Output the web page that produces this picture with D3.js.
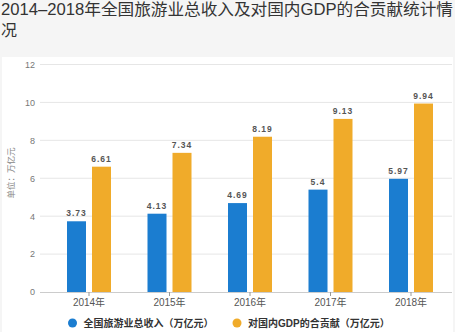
<!DOCTYPE html>
<html><head><meta charset="utf-8">
<script src="https://cdn.jsdelivr.net/npm/d3@7"></script>
<style>html,body{margin:0;padding:0;background:#f5f5f5;}svg{display:block;}</style>
</head><body>
<script>
const years = ["2014年","2015年","2016年","2017年","2018年"];
const revenue = [3.73, 4.13, 4.69, 5.4, 5.97];
const gdpContribution = [6.61, 7.34, 8.19, 9.13, 9.94];
const yTicks = [0, 2, 4, 6, 8, 10, 12];
const seriesNames = ["全国旅游业总收入（万亿元）", "对国内GDP的合贡献（万亿元）"];
const colors = ["#1b7dd0", "#f0ab2a"];
const titleLines = ["2014–2018年全国旅游业总收入及对国内GDP的合贡献统计情", "况"];

const W = 455, H = 332;
const svg = d3.select("body").append("svg").attr("width", W).attr("height", H);
const font = "'Liberation Sans','Noto Sans CJK SC',Arial,sans-serif";

svg.append("rect").attr("width", W).attr("height", H).attr("fill", "#f5f5f5");
svg.append("rect").attr("x", 2).attr("y", 57).attr("width", 451).attr("height", H - 57).attr("fill", "#ffffff");

// title
svg.append("text").attr("x", 1).attr("y", 15).attr("font-family", font).attr("font-size", 16)
  .attr("fill", "#333").attr("textLength", 452).attr("lengthAdjust", "spacingAndGlyphs").text(titleLines[0]);
svg.append("text").attr("x", 1).attr("y", 36).attr("font-family", font).attr("font-size", 16)
  .attr("fill", "#333").text(titleLines[1]);

const x = d3.scaleBand().domain(years).range([48.75, 451.25]);
const y = d3.scaleLinear().domain([0, 12]).range([292, 64.5]);

// grid
const g = svg.append("g");
g.selectAll("line.grid").data(yTicks.filter(d => d > 0)).join("line")
  .attr("x1", 40).attr("x2", 452).attr("y1", d => y(d)).attr("y2", d => y(d))
  .attr("stroke", "#e6e6e6").attr("stroke-width", 1);

// y axis labels
const yAxis = svg.append("g").attr("transform", "translate(40,0)")
  .call(d3.axisLeft(y).tickValues(yTicks).tickSize(0).tickPadding(5));
yAxis.select(".domain").remove();
yAxis.selectAll("text").attr("font-family", font).attr("font-size", 9).attr("fill", "#777");

// y axis title
svg.append("text").attr("transform", "translate(14,173) rotate(-90)")
  .attr("text-anchor", "middle").attr("font-family", font).attr("font-size", 8.5)
  .attr("fill", "#888").text("单位：万亿元");

// bars
const bw = 19, off = 12.5;
const series = [revenue, gdpContribution];
series.forEach((vals, si) => {
  const cx = i => x.bandwidth() / 2 + x(years[i]) + (si === 0 ? -off : off);
  svg.append("g").selectAll("rect").data(vals).join("rect")
    .attr("x", (d, i) => cx(i) - bw / 2).attr("width", bw)
    .attr("y", d => y(d)).attr("height", d => y(0) - y(d))
    .attr("fill", colors[si]);
  svg.append("g").selectAll("text").data(vals).join("text")
    .attr("x", (d, i) => cx(i)).attr("y", d => y(d) - 5)
    .attr("text-anchor", "middle").attr("font-family", font).attr("font-size", 8.5)
    .attr("font-weight", "bold").attr("letter-spacing", 1).attr("fill", "#555")
    .text(d => d);
});

// x axis
const xAxis = svg.append("g").attr("transform", "translate(0,292)")
  .call(d3.axisBottom(x).tickSize(4).tickPadding(3).tickSizeOuter(0));
xAxis.select(".domain").attr("d", "M40,0.5H452").attr("stroke", "#ccc");
xAxis.selectAll(".tick line").attr("stroke", "#999");
xAxis.selectAll("text").attr("font-family", font).attr("font-size", 10).attr("fill", "#555");

// legend
const legX = [72.5, 237];
seriesNames.forEach((n, i) => {
  svg.append("circle").attr("cx", legX[i]).attr("cy", 323).attr("r", 4.5).attr("fill", colors[i]);
  svg.append("text").attr("x", legX[i] + 11).attr("y", 326.5).attr("font-family", font)
    .attr("font-size", 10).attr("font-weight", "bold").attr("fill", "#333").text(n);
});
</script>
</body></html>
